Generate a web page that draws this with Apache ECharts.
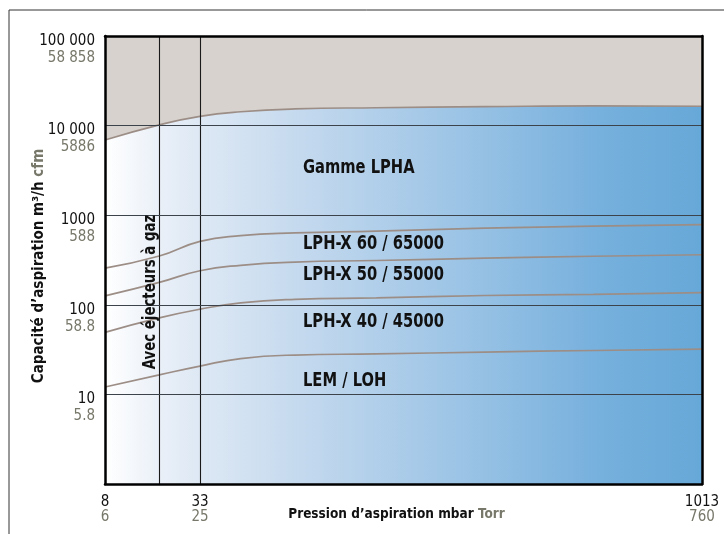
<!DOCTYPE html>
<html><head><meta charset="utf-8">
<script src="https://cdn.jsdelivr.net/npm/echarts@6/dist/echarts.min.js"></script>
<style>html,body{margin:0;padding:0;background:#fff}#c{width:724px;height:534px}</style>
</head><body><div id="c"></div>
<script>
// ---- data ----
const categoryCount = 45;                 // sample slots along the (non-linear) pressure axis
const xTickIndex = [0, 7, 44];
const xTickMbar = ['8', '33', '1013'];
const xTickTorr = ['6', '25', '760'];
const ejectorIndex = [4, 7];
const sampleIndex = [0, 4, 7, 10, 14, 20, 28, 36, 44];
const lphaLimit = [6900, 10200, 12700, 14280, 15350, 15820, 16250, 16600, 16450];
const lphx60 = [257, 350, 510, 591, 634, 664, 716, 755, 785];
const lphx50 = [126, 178, 240, 276, 300, 312, 331, 348, 362];
const lphx40 = [49.3, 71.5, 89.3, 105, 115, 119.5, 127, 130.6, 137];
const lemLoh = [12.1, 16.5, 20.7, 25.1, 27.5, 28.3, 29.7, 30.9, 32];
const yTickValue = [10, 100, 1000, 10000, 100000];
const yTickM3h = ['10', '100', '1000', '10 000', '100 000'];
const yTickCfm = ['5.8', '58.8', '588', '5886', '58 858'];
const rangeLabels = ['Gamme LPHA', 'LPH-X 60 / 65000', 'LPH-X 50 / 55000', 'LPH-X 40 / 45000', 'LEM / LOH'];
const ejectorText = 'Avec éjecteurs à gaz';

// ---- build ----
const FONT = "'Liberation Sans Narrow', 'DejaVu Sans Condensed', 'Liberation Sans', sans-serif";
const categories = [];
for (let i = 0; i < categoryCount; i++) {
  const k = xTickIndex.indexOf(i);
  categories.push(k >= 0 ? xTickMbar[k] : '');
}
const pairs = vals => sampleIndex.map((x, i) => [x, vals[i]]);
const curveColor = '#9c8e86';
const lineSeries = (name, vals, extra) => Object.assign({
  name, type: 'line', data: pairs(vals), smooth: 0.5, symbol: 'none',
  lineStyle: { color: curveColor, width: 1.7 }, silent: true, z: 3
}, extra || {});

const chart = echarts.init(document.getElementById('c'), null, { renderer: 'canvas' });
const labelY = [168, 244, 275, 322, 381];

chart.setOption({
  animation: false,
  backgroundColor: '#fff',
  textStyle: { fontFamily: FONT },
  grid: {
    left: 105, top: 36, width: 597, height: 448, show: true, borderWidth: 0,
    outerBoundsMode: 'none', containLabel: false,
    backgroundColor: new echarts.graphic.LinearGradient(0, 0, 1, 0, [
      { offset: 0, color: '#ffffff' },
      { offset: 0.09, color: '#eaf0f8' },
      { offset: 0.16, color: '#dde8f4' },
      { offset: 0.33, color: '#c4d9ee' },
      { offset: 0.58, color: '#9ec5e6' },
      { offset: 0.83, color: '#76b0dd' },
      { offset: 1, color: '#66a8d8' }
    ])
  },
  xAxis: [{
    type: 'category', data: categories, boundaryGap: false, z: 10,
    axisLine: { show: true, onZero: false, lineStyle: { color: '#000', width: 2.5 } },
    axisTick: { show: false }, splitLine: { show: false },
    axisLabel: {
      interval: 0, margin: 11,
      formatter: (v, i) => {
        const k = xTickIndex.indexOf(i);
        return k >= 0 ? '{a|' + xTickMbar[k] + '}\n{b|' + xTickTorr[k] + '}' : '';
      },
      rich: {
        a: { fontFamily: FONT, fontSize: 15, lineHeight: 15, color: '#111' },
        b: { fontFamily: FONT, fontSize: 15, lineHeight: 15, color: '#77776a' }
      }
    },
    name: '{a|Pression d’aspiration mbar }{b|Torr}',
    nameLocation: 'middle', nameGap: 23, nameMoveOverlap: false,
    nameTextStyle: {
      padding: [0, 14, 0, 0],
      rich: {
        a: { fontFamily: FONT, fontSize: 13.5, fontWeight: 'bold', color: '#111' },
        b: { fontFamily: FONT, fontSize: 13.5, fontWeight: 'bold', color: '#77776a' }
      }
    }
  }, {
    type: 'category', data: categories, boundaryGap: false, position: 'top', z: 10,
    axisLine: { show: true, onZero: false, lineStyle: { color: '#000', width: 2.5 } },
    axisTick: { show: false }, axisLabel: { show: false }, splitLine: { show: false }
  }],
  yAxis: [{
    type: 'log', logBase: 10, min: 1, max: 100000, z: 10,
    axisLine: { show: true, onZero: false, lineStyle: { color: '#000', width: 2.5 } },
    axisTick: { show: false },
    splitLine: { show: true, lineStyle: { color: '#3c434a', width: 1.2 } },
    axisLabel: {
      margin: 10,
      formatter: v => {
        const k = yTickValue.findIndex(t => Math.abs(Math.log10(t) - Math.log10(v)) < 1e-6);
        return k >= 0 ? '{s| }\n{a|' + yTickM3h[k] + '}\n{b|' + yTickCfm[k] + '}' : '';
      },
      rich: {
        s: { fontSize: 4, lineHeight: 27 },
        a: { fontFamily: FONT, fontSize: 15, lineHeight: 17, color: '#111', align: 'right' },
        b: { fontFamily: FONT, fontSize: 15, lineHeight: 17, color: '#77776a', align: 'right' }
      }
    },
    name: '{a|Capacité d’aspiration m³/h }{b|cfm}',
    nameLocation: 'middle', nameGap: 58, nameMoveOverlap: false,
    nameTextStyle: {
      padding: [0, 12, 0, 0],
      rich: {
        a: { fontFamily: FONT, fontSize: 15, fontWeight: 'bold', color: '#111' },
        b: { fontFamily: FONT, fontSize: 15, fontWeight: 'bold', color: '#77776a' }
      }
    }
  }, {
    type: 'log', logBase: 10, min: 1, max: 100000, position: 'right', z: 10,
    axisLine: { show: true, onZero: false, lineStyle: { color: '#000', width: 2.5 } },
    axisTick: { show: false }, axisLabel: { show: false }, splitLine: { show: false }
  }],
  series: [
    lineSeries('Gamme LPHA', lphaLimit, {
      areaStyle: { color: '#d7d2cd', opacity: 1, origin: 'end' }, z: 2
    }),
    lineSeries('LPH-X 60 / 65000', lphx60),
    lineSeries('LPH-X 50 / 55000', lphx50),
    lineSeries('LPH-X 40 / 45000', lphx40),
    lineSeries('LEM / LOH', lemLoh, {
      markLine: {
        silent: true, symbol: ['none', 'none'], label: { show: false },
        lineStyle: { color: '#1a1a1a', width: 1.1, type: 'solid' },
        data: ejectorIndex.map(i => ({ xAxis: i }))
      }
    })
  ],
  graphic: [
    { type: 'line', z: 50, shape: { x1: 9, y1: 10, x2: 724, y2: 10 }, style: { stroke: '#333', lineWidth: 1 } },
    { type: 'line', z: 50, shape: { x1: 9, y1: 10, x2: 9, y2: 534 }, style: { stroke: '#333', lineWidth: 1 } },
    {
      type: 'text', z: 50, x: 151, y: 292, rotation: Math.PI / 2, scaleX: 0.87,
      style: { text: ejectorText, font: 'bold 17px ' + FONT, fill: '#111', align: 'center', verticalAlign: 'middle' }
    }
  ].concat(rangeLabels.map((t, i) => ({
    type: 'text', z: 50, x: 303, y: labelY[i], scaleX: 0.86,
    style: { text: t, font: 'bold 19px ' + FONT, fill: '#111', align: 'left', verticalAlign: 'middle' }
  })))
});
</script></body></html>
